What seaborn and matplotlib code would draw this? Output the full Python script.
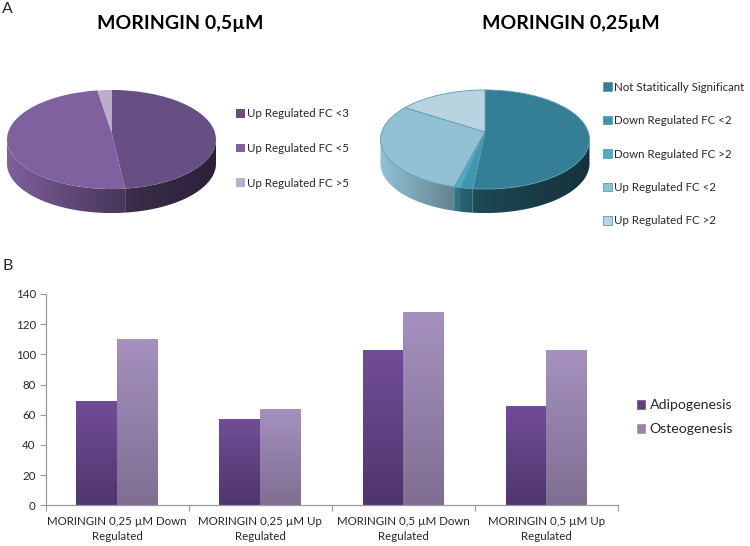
import numpy as np
import pandas as pd
import matplotlib
matplotlib.use("Agg")
import matplotlib.pyplot as plt
from matplotlib.colors import to_rgb, LinearSegmentedColormap
from matplotlib.patches import Polygon
from matplotlib.transforms import Transform
import seaborn as sns

# panel A values (percent, read from the slice boundaries)
labels_05 = ["Up Regulated FC <3", "Up Regulated FC <5", "Up Regulated FC >5"]
values_05 = [48.2, 49.3, 2.5]
labels_025 = ["Not Statitically Significant", "Down Regulated FC <2", "Down Regulated FC >2",
              "Up Regulated FC <2", "Up Regulated FC >2"]
values_025 = [51.6, 1.7, 0.8, 30.1, 15.8]
colors_05 = ["#674f84", "#7f619f", "#bcaecb"]
colors_025 = ["#347f96", "#3e96b0", "#4aacc5", "#92c0d3", "#b8d4e0"]

# panel B values
categories = ["MORINGIN 0,25 µM Down\nRegulated", "MORINGIN 0,25 µM Up\nRegulated",
              "MORINGIN 0,5 µM Down\nRegulated", "MORINGIN 0,5 µM Up\nRegulated"]
adipogenesis = [69, 57, 103, 66]
osteogenesis = [110, 64, 128, 103]
y_ticks = [0, 20, 40, 60, 80, 100, 120, 140]

W, H = 750, 546
TILT = 0.1515
RX, RY, DEPTH = 103.3, 48.4, 24

sns.set_theme(style="white")
plt.rcParams["font.family"] = ["Lato", "DejaVu Sans"]

fig = plt.figure(figsize=(W / 100, H / 100), dpi=100, facecolor="white")


def px_axes(x0, y0, x1, y1):
    return fig.add_axes([x0 / W, 1 - y1 / H, (x1 - x0) / W, (y1 - y0) / H])


def project(xy):
    xy = np.asarray(xy, dtype=float)
    w = 1 + TILT * xy[..., 1]
    return np.stack([RX * xy[..., 0] / w, RY * xy[..., 1] / w], axis=-1)


class Tilt(Transform):
    input_dims = 2
    output_dims = 2

    def transform_non_affine(self, values):
        return project(values)


def wall_shade(x, shade):
    return np.interp(x, [-RX, 0, RX], shade)


def pie_3d(box, center, values, colors, shade, edge=None):
    # box and center are pixels, data units of the axes are pixels from the apex
    ax = px_axes(*box)
    wedges, _ = ax.pie(values, colors=colors, startangle=90, counterclock=False,
                       wedgeprops=dict(edgecolor=edge or "none", linewidth=0.6))
    ax.set_aspect("auto")
    xlim = (box[0] - center[0], box[2] - center[0])
    ylim = (center[1] - box[3], center[1] - box[1])
    tilt = Tilt() + ax.transData
    left = 180 + np.degrees(np.arcsin(TILT))
    right = 360 - np.degrees(np.arcsin(TILT))
    for wedge, color in zip(wedges, colors):
        wedge.set_transform(tilt)
        wedge.set_zorder(3)
        for shift in (0, -360):
            lo = max(wedge.theta1, left + shift)
            hi = min(wedge.theta2, right + shift)
            if hi <= lo:
                continue
            t = np.radians(np.linspace(lo, hi, 80))
            rim = project(np.column_stack([np.cos(t), np.sin(t)]))
            low = rim[::-1] - [0, DEPTH]
            clip = Polygon(np.vstack([rim, low]), transform=ax.transData)
            xs = np.linspace(rim[:, 0].min(), rim[:, 0].max(), 128)
            img = np.clip(wall_shade(xs, shade)[:, None] * np.array(to_rgb(color)), 0, 1)
            im = ax.imshow(img[None, :, :], aspect="auto", zorder=2, interpolation="bilinear",
                           extent=(xs[0], xs[-1], low[:, 1].min(), rim[:, 1].max()))
            im.set_clip_path(clip)
    ax.set_xlim(xlim)
    ax.set_ylim(ylim)
    return wedges


def pie_legend(wedges, labels, x, y, spacing):
    leg = fig.legend(wedges, labels, loc="center left", bbox_to_anchor=(x / W, 1 - y / H),
                     frameon=False, fontsize=8.3, handlelength=0.75, handleheight=0.75,
                     handletextpad=0.2, labelspacing=spacing, borderpad=0, borderaxespad=0)
    for text in leg.get_texts():
        text.set_color("#262626")
    return leg


wedges_05 = pie_3d((0, 80, 225, 222), (111.5, 132), values_05, colors_05, [0.98, 0.6, 0.42])
wedges_025 = pie_3d((372, 80, 597, 222), (485, 132), values_025, colors_025, [1.0, 0.55, 0.4],
                    edge="#5b9db3")
pie_legend(wedges_05, labels_05, 236, 148.5, 2.05)
pie_legend(wedges_025, labels_025, 603, 154, 1.95)

for x, label in [(180, "MORINGIN 0,5µM"), (571, "MORINGIN 0,25µM")]:
    fig.text(x / W, 1 - 24 / H, label, ha="center", va="center", fontsize=14,
             fontweight="bold", color="black")
fig.text(2 / W, 1 - 9 / H, "A", ha="left", va="center", fontsize=11.5, color="#262626")
fig.text(2 / W, 1 - 266 / H, "B", ha="left", va="center", fontsize=11.5, color="#262626")

# ---- panel B ----
df = pd.DataFrame({"category": categories, "Adipogenesis": adipogenesis, "Osteogenesis": osteogenesis})
df = df.melt(id_vars="category", var_name="process", value_name="count")

ax = px_axes(45.5, 294, 618, 505.3)
sns.barplot(data=df, x="category", y="count", hue="process", ax=ax, width=0.57, gap=0,
            palette=["#5f4181", "#9583aa"], saturation=1, legend=True)
ax.set_xlim(-0.5, 3.5)
ax.set_ylim(0, 140)
ax.set_yticks(y_ticks)
ax.set_xlabel("")
ax.set_ylabel("")
sns.despine(ax=ax)
for side in ("left", "bottom"):
    ax.spines[side].set_color("#9a9a9a")
    ax.spines[side].set_linewidth(0.9)
ax.tick_params(axis="y", left=True, length=4, width=0.8, color="#9a9a9a", labelsize=8.3,
               labelcolor="#262626", pad=3)
ax.tick_params(axis="x", bottom=False, labelsize=8.3, labelcolor="#262626", pad=2)
for tick in ax.get_xticklabels():
    tick.set_linespacing(1.45)
ax.set_xticks(np.arange(-0.5, 4), minor=True)
ax.tick_params(axis="x", which="minor", bottom=True, length=4, width=0.8, color="#9a9a9a")

# vertical gradient on top of each bar
ramps = {0: ("#4f356d", "#724d98"), 1: ("#7f6e92", "#a691bf")}
for i, container in enumerate(ax.containers):
    cmap = LinearSegmentedColormap.from_list("bar", ramps[i])
    for bar in container:
        x0, y0 = bar.get_x(), bar.get_y()
        im = ax.imshow(np.linspace(1, 0, 128)[:, None], cmap=cmap, aspect="auto", zorder=bar.get_zorder() + 1,
                       extent=(x0, x0 + bar.get_width(), y0, y0 + bar.get_height()))
        im.set_clip_path(bar)
ax.set_xlim(-0.5, 3.5)
ax.set_ylim(0, 140)

handles, names = ax.get_legend_handles_labels()
ax.legend_.remove()
fig.legend(handles, names, loc="center left", bbox_to_anchor=(636 / W, 1 - 417 / H), frameon=False,
           fontsize=10.2, handlelength=0.7, handleheight=0.8, handletextpad=0.25, labelspacing=0.8,
           borderpad=0, borderaxespad=0, labelcolor="#262626")

fig.savefig("out.png", dpi=100)
plt.close(fig)
